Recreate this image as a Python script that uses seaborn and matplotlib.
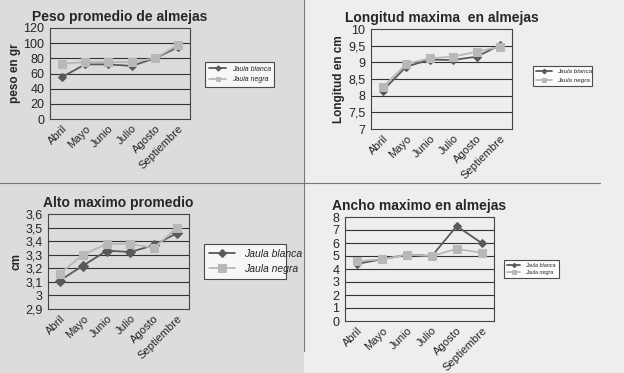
import numpy as np
import pandas as pd
import matplotlib.pyplot as plt
import seaborn as sns

# Data
meses = ['Abril', 'Mayo', 'Junio', 'Julio', 'Agosto', 'Septiembre']
series = ['Jaula blanca', 'Jaula negra']

peso_blanca = [55, 72, 72, 70, 80, 95]
peso_negra = [73, 75, 75, 75, 80, 98]

longitud_blanca = [8.15, 8.87, 9.08, 9.07, 9.17, 9.52]
longitud_negra = [8.25, 8.95, 9.12, 9.17, 9.32, 9.47]

alto_blanca = [3.11, 3.22, 3.33, 3.32, 3.37, 3.46]
alto_negra = [3.16, 3.30, 3.38, 3.38, 3.35, 3.50]

ancho_blanca = [4.4, 4.75, 5.1, 5.0, 7.3, 6.0]
ancho_negra = [4.6, 4.75, 5.1, 5.0, 5.55, 5.25]

sns.set_style('white')
plt.rcParams['font.family'] = ['Liberation Sans', 'DejaVu Sans']

W, H = 624, 373
fig = plt.figure(figsize=(6.24, 3.73), dpi=100)
fig.patch.set_facecolor('#dcdcdc')

# lighter right half like the scan
fig.patches.append(plt.Rectangle((304 / W, 0), 1 - 304 / W, 1, transform=fig.transFigure,
                                 color='#eeeeee', zorder=-1))
# separator lines
fig.add_artist(plt.Line2D([304 / W, 304 / W], [0.06, 1], color='#777777', lw=0.8))
fig.add_artist(plt.Line2D([0, 600 / W], [1 - 183 / H, 1 - 183 / H], color='#777777', lw=0.8))

colors = {'Jaula blanca': '#5a5a5a', 'Jaula negra': '#b8b8b8'}
markers = {'Jaula blanca': 'D', 'Jaula negra': 's'}


def rect(x0, y0, x1, y1):
    return [x0 / W, 1 - y1 / H, (x1 - x0) / W, (y1 - y0) / H]


def panel(box, blanca, negra, title, ylabel, yticks, ylabels, legbox, legfs, msize, mscale):
    ax = fig.add_axes(rect(*box))
    df = pd.DataFrame({'mes': meses * 2,
                       'pos': list(range(6)) * 2,
                       'valor': blanca + negra,
                       'serie': ['Jaula blanca'] * 6 + ['Jaula negra'] * 6})
    for s in series:
        d = df[df.serie == s]
        sns.lineplot(data=d, x='pos', y='valor', ax=ax, color=colors[s], marker=markers[s],
                     markersize=msize if s == 'Jaula negra' else msize * 0.8,
                     markeredgecolor=colors[s], lw=1.3, label=s, legend=False)
    ax.set_facecolor('none')
    ax.set_xlim(-0.5, 5.5)
    ax.set_ylim(yticks[0], yticks[-1])
    ax.set_yticks(yticks)
    ax.set_yticklabels(ylabels, fontsize=9)
    for y in yticks[1:-1]:
        ax.axhline(y, color='#333333', lw=0.8, zorder=0)
    ax.set_xticks(range(6))
    ax.set_xticklabels(meses, rotation=45, ha='right', rotation_mode='anchor', fontsize=8)
    ax.set_xticks(np.arange(-0.5, 6, 1), minor=True)
    ax.tick_params(axis='x', which='major', length=0, pad=3)
    ax.tick_params(axis='x', which='minor', length=3, direction='out', color='#333333')
    ax.tick_params(axis='y', length=3, direction='out', color='#333333', pad=1)
    for sp in ax.spines.values():
        sp.set_color('#444444')
        sp.set_linewidth(0.8)
    ax.set_xlabel('')
    ax.set_ylabel(ylabel, fontsize=8.5, fontweight='bold', labelpad=2)
    ax.set_title(title, fontsize=10, fontweight='bold', pad=5, loc='center')
    lax = fig.add_axes(rect(*legbox))
    handles, labels = ax.get_legend_handles_labels()
    lax.axis('off')
    leg = lax.legend(handles, labels, loc='center', frameon=True,
                     prop={'style': 'italic', 'size': legfs}, fancybox=False,
                     edgecolor='#222222', borderpad=0.5, handlelength=2.5,
                     markerscale=mscale,
                     mode='expand', bbox_to_anchor=(0, 0, 1, 1))
    leg.get_frame().set_facecolor('white')
    leg.get_frame().set_linewidth(0.8)
    return ax


panel((50, 28, 190, 119), peso_blanca, peso_negra, 'Peso promedio de almejas', 'peso en gr',
      [0, 20, 40, 60, 80, 100, 120], ['0', '20', '40', '60', '80', '100', '120'],
      (202, 61, 277, 88), 5, 5.5, 0.6)

lt = [7, 7.5, 8, 8.5, 9, 9.5, 10]
panel((371, 29, 512, 129), longitud_blanca, longitud_negra, 'Longitud maxima  en almejas',
      'Longitud en cm', lt, ['7', '7,5', '8', '8,5', '9', '9,5', '10'],
      (530, 65, 595, 87), 4.5, 5.5, 0.55)

at = [2.9, 3.0, 3.1, 3.2, 3.3, 3.4, 3.5, 3.6]
panel((48, 214, 189, 309), alto_blanca, alto_negra, 'Alto maximo promedio', 'cm',
      at, ['2,9', '3', '3,1', '3,2', '3,3', '3,4', '3,5', '3,6'],
      (199, 246, 291, 277), 7.5, 6, 0.9)

nt = [0, 1, 2, 3, 4, 5, 6, 7, 8]
panel((345, 217, 494, 321), ancho_blanca, ancho_negra, 'Ancho maximo en almejas', '',
      nt, [str(v) for v in nt], (501, 259, 562, 279), 4, 5.5, 0.5)

fig.savefig('out.png', dpi=100, facecolor=fig.get_facecolor())
